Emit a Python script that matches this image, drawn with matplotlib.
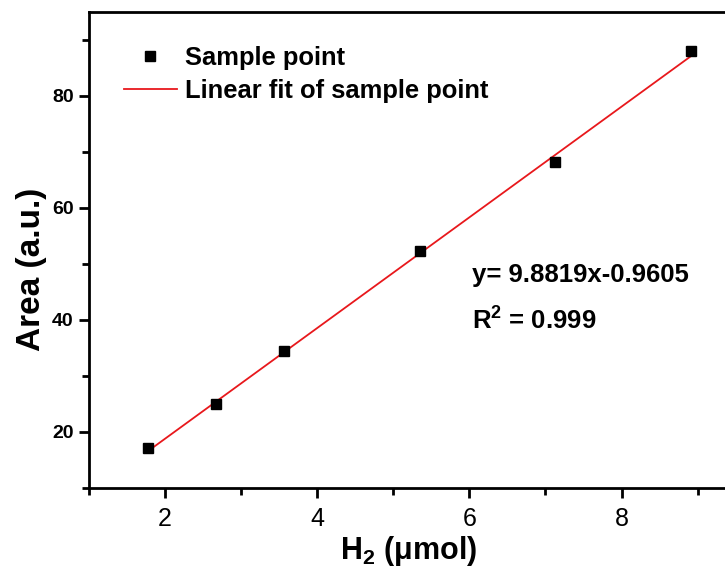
import matplotlib
matplotlib.use("Agg")
import matplotlib.pyplot as plt
import numpy as np
from matplotlib.ticker import MultipleLocator

plt.rcParams['font.family'] = ['Liberation Sans', 'DejaVu Sans']

h2 = [1.78, 2.67, 3.56, 5.35, 7.13, 8.91]
area = [17.2, 25.0, 34.4, 52.4, 68.2, 88.0]
slope = 9.8819
intercept = -0.9605

fig = plt.figure(figsize=(7.25, 5.75), dpi=100)
W, H = 725, 575
left, right, top, bottom = 89, 728, 12, 488
ax = fig.add_axes([left / W, 1 - bottom / H, (right - left) / W, (bottom - top) / H])

xf = np.array([h2[0], h2[-1]])
ax.plot(xf, slope * xf + intercept, color='#e8181c', lw=1.3, label='Linear fit of sample point', zorder=2)
ax.plot(h2, area, 's', color='black', ms=7.5, label='Sample point', linestyle='none', zorder=3)

ax.set_xlim(1.0, 9.4)
ax.set_ylim(10, 95)
ax.xaxis.set_major_locator(MultipleLocator(2))
ax.xaxis.set_minor_locator(MultipleLocator(1))
ax.yaxis.set_major_locator(MultipleLocator(20))
ax.yaxis.set_minor_locator(MultipleLocator(10))

for s in ax.spines.values():
    s.set_linewidth(2)
ax.tick_params(which='major', direction='out', length=7, width=2)
ax.tick_params(which='minor', direction='out', length=5, width=2)
ax.tick_params(axis='x', labelsize=18, pad=7)
ax.tick_params(axis='y', labelsize=14, pad=4)
for lab in ax.get_yticklabels():
    lab.set_fontweight('bold')

ax.set_xlabel(r'H$_\mathregular{2}$ (μmol)', fontsize=22, fontweight='bold', labelpad=2)
ax.set_ylabel('Area (a.u.)', fontsize=24, fontweight='bold')
ax.yaxis.set_label_coords(-0.066, 0.46)

handles, labels = ax.get_legend_handles_labels()
leg = ax.legend(handles[::-1], labels[::-1], loc='upper left', bbox_to_anchor=(0.026, 0.966),
                frameon=False, prop={'size': 18.4, 'weight': 'bold'}, handlelength=2.1,
                handletextpad=0.3, labelspacing=0.35, borderaxespad=0.3)

ax.text(472 / W, 1 - 275 / H, 'y= 9.8819x-0.9605', transform=fig.transFigure,
        fontsize=18.5, fontweight='bold', va='center', ha='left')
ax.text(472 / W, 1 - 320 / H, r'R$^\mathregular{2}$ = 0.999', transform=fig.transFigure,
        fontsize=18.5, fontweight='bold', va='center', ha='left')

fig.savefig('out.png', dpi=100)
